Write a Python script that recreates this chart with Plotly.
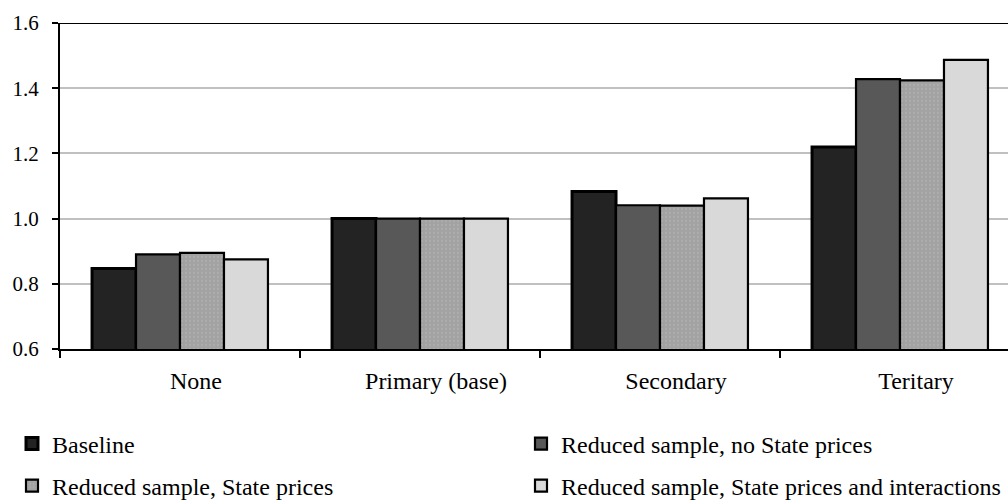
import plotly.graph_objects as go

categories = ["None", "Primary (base)", "Secondary", "Teritary"]
series_names = [
    "Baseline",
    "Reduced sample, no State prices",
    "Reduced sample, State prices",
    "Reduced sample, State prices and interactions",
]
baseline = [0.847, 1.000, 1.083, 1.220]
reduced_no_state = [0.890, 1.000, 1.041, 1.428]
reduced_state = [0.895, 1.000, 1.040, 1.424]
reduced_state_inter = [0.875, 1.000, 1.062, 1.487]
y_ticks = [0.6, 0.8, 1.0, 1.2, 1.4, 1.6]

FONT = "Liberation Serif, Times New Roman, serif"
W, H = 1008, 500
ML, MR, MT, MB = 60, 0, 23, 151

fig = go.Figure()
styles = [
    dict(color="#232323", lw=3, pattern=None),
    dict(color="#585858", lw=2.2, pattern=None),
    dict(color="#a4a4a4", lw=2.2, pattern=dict(shape=".", bgcolor="#a2a2a2", fgcolor="#b8b8b8", size=4, solidity=0.25)),
    dict(color="#d9d9d9", lw=2.2, pattern=None),
]
data = [baseline, reduced_no_state, reduced_state, reduced_state_inter]
legend_ids = ["legend", "legend2", "legend3", "legend4"]
for name, vals, st, lg in zip(series_names, data, styles, legend_ids):
    marker = dict(color=st["color"], line=dict(color="black", width=st["lw"]))
    if st["pattern"]:
        marker["pattern"] = st["pattern"]
    fig.add_trace(go.Bar(x=categories, y=vals, name=name, marker=marker,
                         legend=lg, showlegend=True))

pw = W - ML - MR
ph = H - MT - MB

def leg(xpx, ypx):
    # position given in page pixels, converted to paper coords of the plot area
    return dict(
        x=(xpx - ML) / pw, y=(H - MB - ypx) / ph, xref="paper", yref="paper",
        xanchor="left", yanchor="middle",
        font=dict(family=FONT, size=24, color="black"),
        bgcolor="rgba(0,0,0,0)", itemwidth=30, orientation="v",
    )

fig.update_layout(
    width=W, height=H,
    margin=dict(l=ML, r=MR, t=MT, b=MB, autoexpand=False),
    paper_bgcolor="white", plot_bgcolor="white",
    barmode="group", bargap=0.267, bargroupgap=0,
    showlegend=True,
    font=dict(family=FONT, size=24, color="black"),
    legend=leg(12, 444),
    legend2=leg(521, 444),
    legend3=leg(12, 486),
    legend4=leg(521, 486),
    xaxis=dict(
        type="category", range=[-0.5, -0.5 + pw / 240.0],
        showline=True, linecolor="black", linewidth=1.5,
        ticks="outside", tickson="boundaries", ticklen=7, tickcolor="black", tickwidth=1.5,
        showgrid=False, tickfont=dict(family=FONT, size=24), tickangle=0,
        ticklabelshift=16, ticklabelstandoff=9, automargin=False,
    ),
    yaxis=dict(
        range=[0.6, 1.6], tickvals=y_ticks, tickformat=".1f",
        showline=True, linecolor="black", linewidth=2,
        ticks="outside", ticklen=6, tickcolor="black", tickwidth=1.5,
        showgrid=True, gridcolor="#c0c0c0", gridwidth=1.5,
        zeroline=False, tickfont=dict(family=FONT, size=21),
        ticklabelstandoff=9, automargin=False,
    ),
    shapes=[dict(type="line", xref="paper", yref="y", x0=0, x1=1, y0=1.6, y1=1.6,
                 line=dict(color="black", width=2))],
)

fig.write_html(
    "out.html",
    config={"displayModeBar": False},
    post_script="document.body.style.margin='0';document.body.style.overflow='hidden';",
)
